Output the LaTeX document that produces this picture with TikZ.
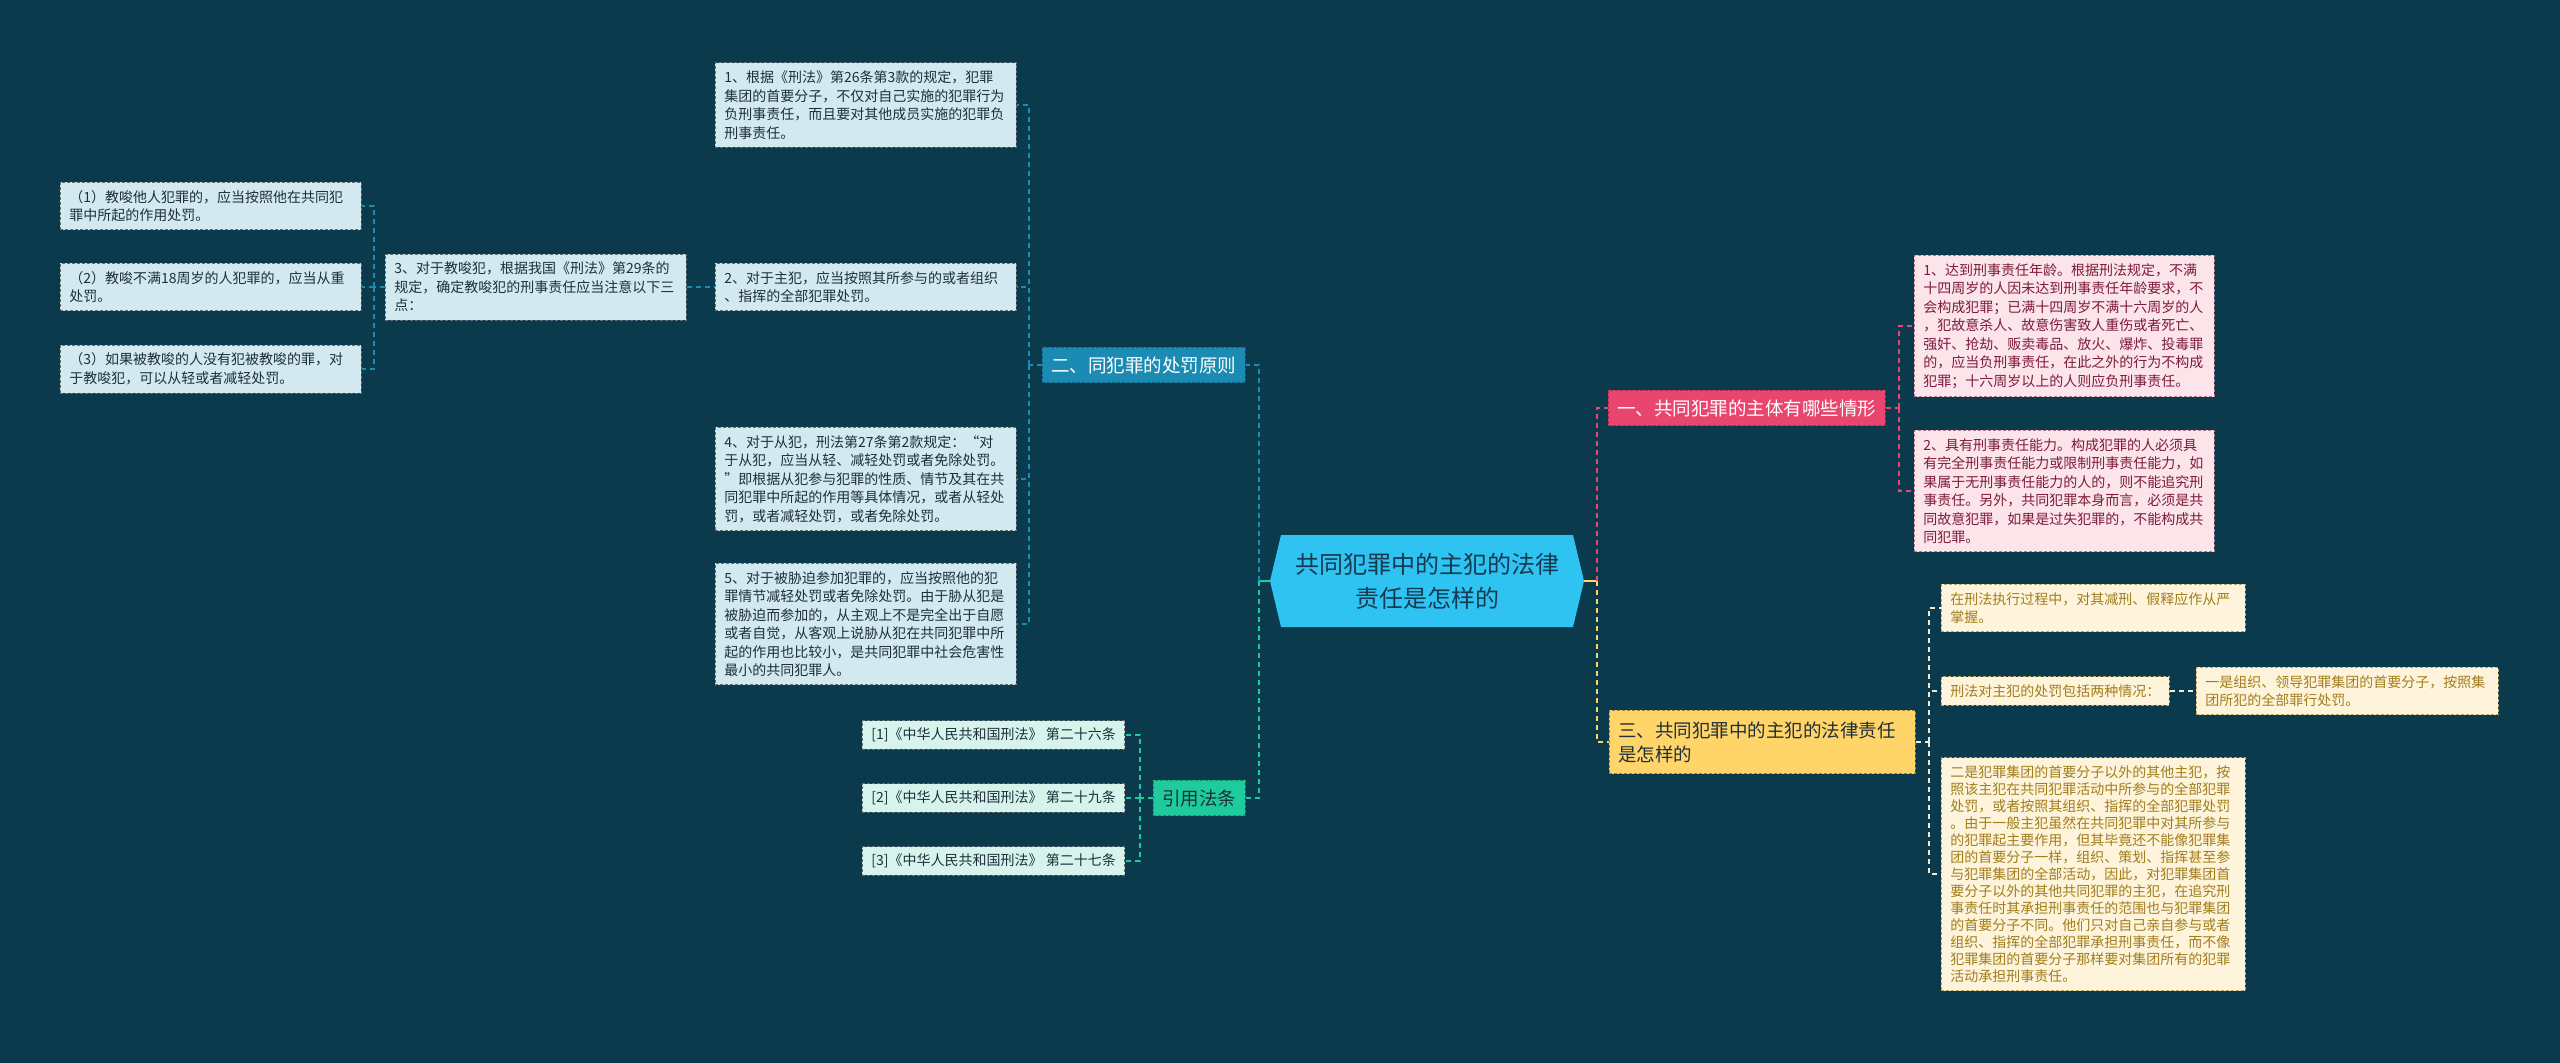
\documentclass[tikz,border=0pt]{standalone}
\usepackage{fontspec}
\setmainfont{Noto Sans CJK SC}
\usepackage{tikz}
\usetikzlibrary{calc}
\definecolor{mapbg}{HTML}{0B3A4D}
\definecolor{rootblue}{HTML}{2EC3F1}
\definecolor{rootink}{HTML}{163A52}
\definecolor{lawblue}{HTML}{1B8BB4}
\definecolor{lawgreen}{HTML}{1FCB9C}
\definecolor{lawpink}{HTML}{E8466F}
\definecolor{lawgold}{HTML}{FFD468}
\definecolor{leafblue}{HTML}{D3E9F0}
\definecolor{leafmint}{HTML}{D6F4EC}
\definecolor{leafpink}{HTML}{FBE4EA}
\definecolor{leafcream}{HTML}{FDF4DB}
\definecolor{inkpink}{HTML}{7E1B3B}
\definecolor{inkgold}{HTML}{A27D1C}
\definecolor{inkdark}{HTML}{1F2F39}
\definecolor{creamline}{HTML}{F3EBD3}

\begin{document}
\begin{tikzpicture}[x=1pt, y=-1pt,
  basebox/.style={draw, dash pattern=on 3pt off 2pt, line width=0.8pt, inner xsep=9pt, inner ysep=8pt,
    align=left, anchor=west, font=\fontsize{14}{18.5}\selectfont},
  leafbox/.style={basebox, fill=leafblue, draw=inkdark!70, text=inkdark, text width=283pt},
  refbox/.style={basebox, fill=leafmint, draw=inkdark!70, text=inkdark, inner ysep=7pt},
  pinkbox/.style={basebox, fill=leafpink, draw=inkpink!60, text=inkpink, text width=282pt},
  goldbox/.style={basebox, fill=leafcream, draw=inkgold!70, text=inkgold},
  topicbox/.style={draw, dash pattern=on 3pt off 2pt, line width=0.8pt, inner xsep=9pt, inner ysep=9pt,
    align=left, anchor=west, font=\fontsize{18.5}{24}\selectfont},
  rootbox/.style={minimum width=314pt, minimum height=92pt, inner sep=0pt, align=center,
    text=rootink, font=\fontsize{24}{34}\selectfont,
    path picture={\fill[rootblue] (path picture bounding box.west)
      -- ($(path picture bounding box.north west)+(11,0)$)
      -- ($(path picture bounding box.north east)+(-11,0)$)
      -- (path picture bounding box.east)
      -- ($(path picture bounding box.south east)+(-11,0)$)
      -- ($(path picture bounding box.south west)+(11,0)$) -- cycle;}},
  linkline/.style={line width=1.8pt, dash pattern=on 5pt off 4pt},
]
  \fill[mapbg] (0,0) rectangle (2560,1063);
  \useasboundingbox (0,0) rectangle (2560,1063);

  % centre
  \node[rootbox] (root) at (1427,581) {共同犯罪中的主犯的法律\\责任是怎样的};

  % main topics
  \node[topicbox, fill=lawblue, draw=lawblue!70!black, text=white] (L2) at (1042,365) {二、同犯罪的处罚原则};
  \node[topicbox, fill=lawgreen, draw=lawgreen!70!black, text=inkdark] (L4) at (1153,798) {引用法条};
  \node[topicbox, fill=lawpink, draw=lawpink!70!black, text=white] (L1) at (1608,408) {一、共同犯罪的主体有哪些情形};
  \node[topicbox, fill=lawgold, draw=lawgold!60!black, text=inkdark, text width=288pt, inner ysep=11pt] (L3) at (1609,742)
    {三、共同犯罪中的主犯的法律责任\\是怎样的};

  % punishment principles
  \node[leafbox] (B1) at (715,105) {1、根据《刑法》第26条第3款的规定，犯罪\\集团的首要分子，不仅对自己实施的犯罪行为\\负刑事责任，而且要对其他成员实施的犯罪负\\刑事责任。};
  \node[leafbox] (B2) at (715,287) {2、对于主犯，应当按照其所参与的或者组织\\、指挥的全部犯罪处罚。};
  \node[leafbox] (B3) at (385,287) {3、对于教唆犯，根据我国《刑法》第29条的\\规定，确定教唆犯的刑事责任应当注意以下三\\点：};
  \node[leafbox] (B31) at (60,206) {（1）教唆他人犯罪的，应当按照他在共同犯\\罪中所起的作用处罚。};
  \node[leafbox] (B32) at (60,287) {（2）教唆不满18周岁的人犯罪的，应当从重\\处罚。};
  \node[leafbox] (B33) at (60,369) {（3）如果被教唆的人没有犯被教唆的罪，对\\于教唆犯，可以从轻或者减轻处罚。};
  \node[leafbox] (B4) at (715,479) {4、对于从犯，刑法第27条第2款规定：“对\\于从犯，应当从轻、减轻处罚或者免除处罚。\\”即根据从犯参与犯罪的性质、情节及其在共\\同犯罪中所起的作用等具体情况，或者从轻处\\罚，或者减轻处罚，或者免除处罚。};
  \node[leafbox] (B5) at (715,624) {5、对于被胁迫参加犯罪的，应当按照他的犯\\罪情节减轻处罚或者免除处罚。由于胁从犯是\\被胁迫而参加的，从主观上不是完全出于自愿\\或者自觉，从客观上说胁从犯在共同犯罪中所\\起的作用也比较小，是共同犯罪中社会危害性\\最小的共同犯罪人。};

  % cited articles
  \node[refbox] (R1) at (862,735) {[1]《中华人民共和国刑法》 第二十六条};
  \node[refbox] (R2) at (862,798) {[2]《中华人民共和国刑法》 第二十九条};
  \node[refbox] (R3) at (862,861) {[3]《中华人民共和国刑法》 第二十七条};

  % subjects
  \node[pinkbox] (P1) at (1914,326) {1、达到刑事责任年龄。根据刑法规定，不满\\十四周岁的人因未达到刑事责任年龄要求，不\\会构成犯罪；已满十四周岁不满十六周岁的人\\，犯故意杀人、故意伤害致人重伤或者死亡、\\强奸、抢劫、贩卖毒品、放火、爆炸、投毒罪\\的，应当负刑事责任，在此之外的行为不构成\\犯罪；十六周岁以上的人则应负刑事责任。};
  \node[pinkbox] (P2) at (1914,491) {2、具有刑事责任能力。构成犯罪的人必须具\\有完全刑事责任能力或限制刑事责任能力，如\\果属于无刑事责任能力的人的，则不能追究刑\\事责任。另外，共同犯罪本身而言，必须是共\\同故意犯罪，如果是过失犯罪的，不能构成共\\同犯罪。};

  % liability of principal offenders
  \node[goldbox, text width=286pt] (Y1) at (1941,608) {在刑法执行过程中，对其减刑、假释应作从严\\掌握。};
  \node[goldbox] (Y2) at (1941,691) {刑法对主犯的处罚包括两种情况：};
  \node[goldbox, text width=284pt] (Y21) at (2196,691) {一是组织、领导犯罪集团的首要分子，按照集\\团所犯的全部罪行处罚。};
  \node[goldbox, text width=286pt, font=\fontsize{14}{17}\selectfont] (Y3) at (1941,874) {二是犯罪集团的首要分子以外的其他主犯，按\\照该主犯在共同犯罪活动中所参与的全部犯罪\\处罚，或者按照其组织、指挥的全部犯罪处罚\\。由于一般主犯虽然在共同犯罪中对其所参与\\的犯罪起主要作用，但其毕竟还不能像犯罪集\\团的首要分子一样，组织、策划、指挥甚至参\\与犯罪集团的全部活动，因此，对犯罪集团首\\要分子以外的其他共同犯罪的主犯，在追究刑\\事责任时其承担刑事责任的范围也与犯罪集团\\的首要分子不同。他们只对自己亲自参与或者\\组织、指挥的全部犯罪承担刑事责任，而不像\\犯罪集团的首要分子那样要对集团所有的犯罪\\活动承担刑事责任。};

  % connectors from the centre
  \coordinate (sl) at ($(root.west)+(-11,0)$);
  \coordinate (sr) at ($(root.east)+(13,0)$);
  \draw[lawgreen, line width=1.8pt] (root.west) -- (sl);
  \draw[lawgold, line width=1.8pt] (root.east) -- (sr);
  \draw[linkline, lawblue] (sl) |- (L2.east);
  \draw[linkline, lawgreen] (sl) |- (L4.east);
  \draw[linkline, lawpink] (sr) |- (L1.west);
  \draw[linkline, lawgold] (sr) |- (L3.west);

  % branch two
  \coordinate (s2) at ($(L2.west)+(-13,0)$);
  \draw[linkline, lawblue] (L2.west) -- (s2);
  \foreach \n in {B1,B2,B4,B5}
    \draw[linkline, lawblue] (s2) |- (\n.east);
  \draw[linkline, lawblue] (B3.east) -- (B2.west);
  \coordinate (s23) at ($(B3.west)+(-11,0)$);
  \draw[linkline, lawblue] (B3.west) -- (s23);
  \foreach \n in {B31,B32,B33}
    \draw[linkline, lawblue] (s23) |- (\n.east);

  % cited articles
  \coordinate (s4) at ($(L4.west)+(-13,0)$);
  \draw[linkline, lawgreen] (L4.west) -- (s4);
  \foreach \n in {R1,R2,R3}
    \draw[linkline, lawgreen] (s4) |- (\n.east);

  % branch one
  \coordinate (s1) at ($(L1.east)+(13,0)$);
  \draw[linkline, lawpink] (L1.east) -- (s1);
  \foreach \n in {P1,P2}
    \draw[linkline, lawpink] (s1) |- (\n.west);

  % branch three
  \coordinate (s3) at ($(L3.east)+(13,0)$);
  \draw[linkline, creamline] (L3.east) -- (s3);
  \foreach \n in {Y1,Y2,Y3}
    \draw[linkline, creamline] (s3) |- (\n.west);
  \draw[linkline, creamline] (Y2.east) -- (Y21.west);
\end{tikzpicture}
\end{document}
